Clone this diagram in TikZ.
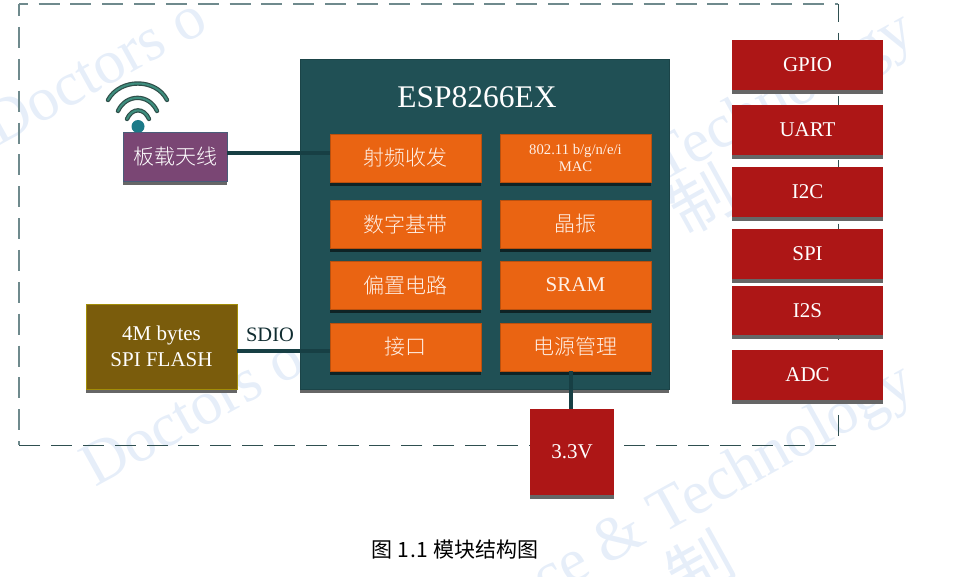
\documentclass[tikz,border=0pt]{standalone}
\usepackage{fontspec}
\setmainfont{Liberation Serif}
\newfontfamily\cjkl{Noto Sans CJK SC Light}
\newfontfamily\cjkr{Noto Sans CJK SC}
\definecolor{wmark}{HTML}{E6EEF9}
\definecolor{espteal}{HTML}{205055}
\definecolor{wire}{HTML}{173F44}
\definecolor{orangeb}{HTML}{EA6412}
\definecolor{redb}{HTML}{AD1616}
\definecolor{purpleb}{HTML}{7A4674}
\definecolor{flashb}{HTML}{7A5C0C}
\definecolor{shgray}{HTML}{666666}
\definecolor{shdark}{HTML}{0E2325}
\definecolor{cream}{HTML}{FFF0E6}
\definecolor{wifid}{HTML}{2F4F4A}
\definecolor{wifil}{HTML}{3E8E7E}
\definecolor{wifidot}{HTML}{1C7A88}
\definecolor{dashgray}{HTML}{6F8A8D}
\definecolor{dashdark}{HTML}{2F4F50}
\tikzset{
  wm/.style={text=wmark,font=\fontsize{62}{62}\selectfont,inner sep=0pt,rotate=29},
  wmc/.style={text=wmark,font=\fontsize{64}{64}\cjkr\selectfont,inner sep=0pt,rotate=29},
  espbox/.style={fill=espteal,draw=espteal!85!black,line width=.6pt},
  orangebox/.style={fill=orangeb,draw=orangeb!80!black,line width=.8pt,text=cream,font=\fontsize{21}{24}\cjkl\selectfont,align=center},
  orangelat/.style={orangebox,font=\fontsize{21}{24}\selectfont},
  orangesmall/.style={orangebox,font=\fontsize{14.7}{17}\selectfont},
  redbox/.style={fill=redb,text=white,font=\fontsize{21}{24}\selectfont,align=center},
  antbox/.style={fill=purpleb,draw=purpleb!60!teal,line width=.8pt,text=white,font=\fontsize{21}{24}\cjkl\selectfont},
  flashbox/.style={fill=flashb,draw=flashb!70!yellow,line width=.8pt,text=white,font=\fontsize{21}{26}\selectfont,align=center},
  wirel/.style={draw=wire,line width=3.6pt},
  bordera/.style={draw=dashgray,line width=1.3pt},
  borderb/.style={draw=dashdark,line width=1pt},
  wifi/.style={line cap=round,line width=4.4pt,draw=wifid},
  wifin/.style={line cap=round,line width=2pt,draw=wifil}
}
\newcommand\blk[7][shgray]{%
  \pgfmathsetmacro\bw{#5-#3}%
  \pgfmathsetmacro\bh{#6-#4}%
  \pgfmathsetmacro\cx{(#3+#5)/2}%
  \pgfmathsetmacro\cy{(#4+#6)/2}%
  \fill[#1] (#3,#4+5) rectangle (#5,#6+4);%
  \node[#2,minimum width=\bw pt,minimum height=\bh pt,inner sep=0pt,outer sep=0pt] (#7) at (\cx,\cy)}
\begin{document}
\begin{tikzpicture}[x=1pt,y=-1pt]
\useasboundingbox (0,0) rectangle (963,577);
\clip (0,0) rectangle (963,577);
% watermark
\node[wm,anchor=base west] (w1) at (-2,147) {Doctors o};
\node[wm,anchor=base west] (w2) at (95,488) {Doctors o};
\node[wm,anchor=base east] (w2b) at (918,41) {Technology};
\node[wm,anchor=base east] (w3) at (918,393) {ce \& Technology};
\node[wmc] (w4) at (702,200) {制};
\node[wmc] (w5) at (700,566) {制};
% border
\draw[bordera,dash pattern=on 21pt off 10.85pt,dash phase=12.35pt] (19,4) -- (838,4);
\draw[bordera,dash pattern=on 21pt off 10.85pt,dash phase=8.85pt] (19,4) -- (19,445);
\draw[borderb,dash pattern=on 21pt off 10.85pt,dash phase=3.25pt] (838,4) -- (838,445);
\draw[borderb,dash pattern=on 21pt off 10.85pt,dash phase=30.2pt] (838,445) -- (19,445);
% wifi icon
\foreach \a/\b/\c/\d/\e/\f/\g/\h in {108/100/120/78/156/78/167/100,118/111/126/93.5/149/93.5/157/111,127/119/132/107.5/144/107.5/149/119}{
  \draw[wifi] (\a,\b) .. controls (\c,\d) and (\e,\f) .. (\g,\h);
  \draw[wifin] (\a,\b) .. controls (\c,\d) and (\e,\f) .. (\g,\h);
}
\fill[wifidot] (138,126.5) circle (6.5);
% blocks
\blk{espbox}{300}{59}{669}{389}{esp}{};
\node[text=white,font=\fontsize{31.5}{36}\selectfont,inner sep=0pt] (title) at (477,97) {ESP8266EX};
\blk[shdark]{orangebox}{330}{134}{481}{182}{rf}{射频收发};
\blk[shdark]{orangesmall}{500}{134}{651}{182}{mac}{802.11 b/g/n/e/i\\MAC};
\blk[shdark]{orangebox}{330}{200}{481}{248}{bb}{数字基带};
\blk[shdark]{orangebox}{500}{200}{651}{248}{xo}{晶振};
\blk[shdark]{orangebox}{330}{261}{481}{309}{bias}{偏置电路};
\blk[shdark]{orangelat}{500}{261}{651}{309}{sram}{SRAM};
\blk[shdark]{orangebox}{330}{323}{481}{371}{ifc}{接口};
\blk[shdark]{orangebox}{500}{323}{651}{371}{pm}{电源管理};
\blk{antbox}{123}{132}{227}{181}{ant}{板载天线};
\blk{flashbox}{86}{304}{237}{389}{flash}{4M bytes\\SPI FLASH};
\blk{redbox}{732}{40}{883}{90}{gpio}{GPIO};
\blk{redbox}{732}{105}{883}{155}{uart}{UART};
\blk{redbox}{732}{167}{883}{217}{iic}{I2C};
\blk{redbox}{732}{229}{883}{279}{spi}{SPI};
\blk{redbox}{732}{286}{883}{335}{iis}{I2S};
\blk{redbox}{732}{350}{883}{400}{adc}{ADC};
\blk{redbox}{530}{409}{614}{495}{vcc}{3.3V};
% connectors
\draw[wirel] ([yshift=3.5pt]ant.east) -- ([yshift=5pt]rf.west);
\draw[wirel] ([yshift=-4.5pt]flash.east) -- ([yshift=-4pt]ifc.west);
\draw[wirel] ([xshift=-4.5pt]pm.south) -- ([xshift=-1pt]vcc.north);
% labels
\node[text=wire!70!black,font=\fontsize{20.5}{24}\selectfont,inner sep=0pt] (sdio) at (270,335) {SDIO};
\node[text=black,font=\fontsize{21}{24}\cjkr\selectfont,inner sep=0pt] (cap) at (455,550) {图 1\kern1pt.\kern1pt1 模块结构图};
\end{tikzpicture}
\end{document}
